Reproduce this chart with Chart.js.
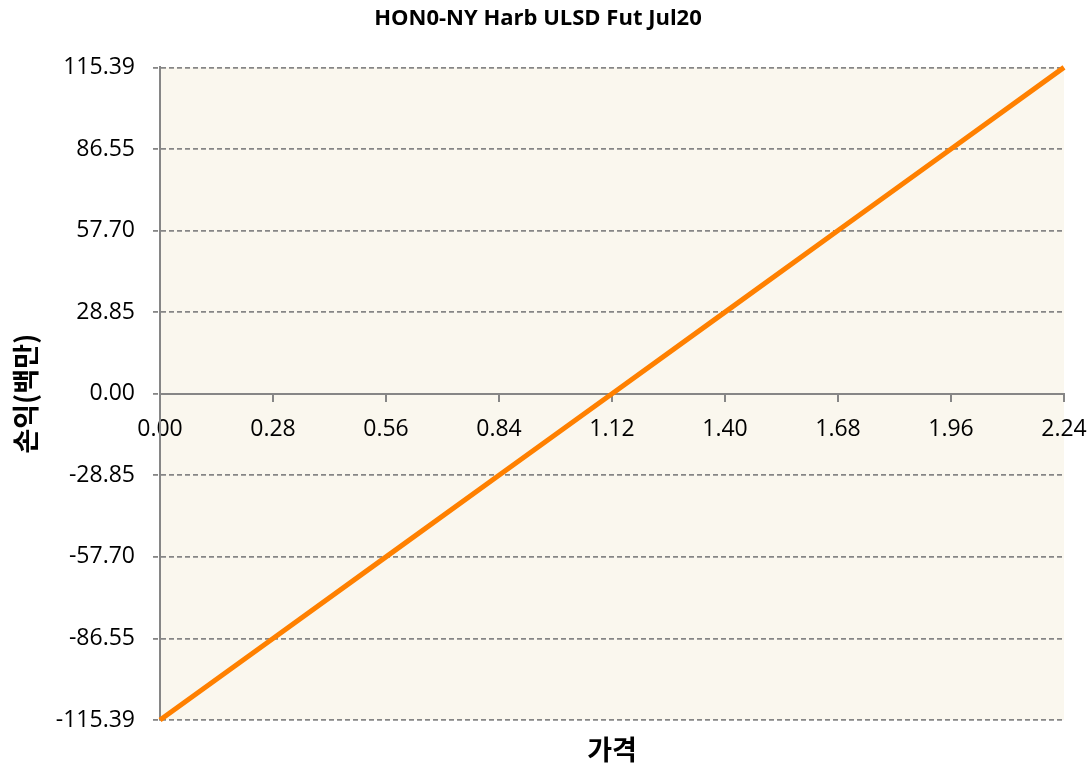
<!DOCTYPE html>
<html>
<head>
<meta charset="utf-8">
<script src="https://cdn.jsdelivr.net/npm/chart.js@4/dist/chart.umd.min.js"></script>
<style>
  html, body { margin: 0; padding: 0; background: #ffffff; }
  #grafico { display: block; }
</style>
</head>
<body>
<canvas id="grafico" width="1092" height="772"></canvas>
<script>
// precio del contrato y resultado (en millones)
var precios = [0.00, 0.28, 0.56, 0.84, 1.12, 1.40, 1.68, 1.96, 2.24];
var resultado = [-115.39, -86.55, -57.70, -28.85, 0.00, 28.85, 57.70, 86.55, 115.39];
var ticksX = [0.00, 0.28, 0.56, 0.84, 1.12, 1.40, 1.68, 1.96, 2.24];
var ticksY = [-115.39, -86.55, -57.70, -28.85, 0.00, 28.85, 57.70, 86.55, 115.39];
var titulo = "HON0-NY Harb ULSD Fut Jul20";
var tituloX = "가격";
var tituloY = "손익(백만)";

var gris = '#868686';
var fuenteKr = "'Noto Sans CJK KR', 'Open Sans', sans-serif";

Chart.defaults.font.family = "'Open Sans', sans-serif";
Chart.defaults.color = '#000000';

var fondoArea = { // pinta el fondo crema del area del grafico
    id: 'fondoArea',
    beforeDraw: function (chart) {
        var a = chart.chartArea;
        var ctx = chart.ctx;
        ctx.save();
        ctx.fillStyle = '#FAF7EE';
        ctx.fillRect(a.left, a.top, a.right - a.left, a.bottom - a.top);
        ctx.restore();
    }
};

var puntos = precios.map(function (p, i) {
    return { x: p, y: resultado[i] };
});

var lineChart = new Chart(document.getElementById("grafico"), {
    type: 'line',
    data: {
        datasets: [{
            label: titulo,
            data: puntos,
            borderColor: '#FF8000',
            borderWidth: 5,
            pointRadius: 0,
            tension: 0,
            clip: false
        }]
    },
    options: {
        responsive: false,
        animation: false,
        layout: {
            padding: { left: 12, right: 28, top: 0, bottom: 0 }
        },
        plugins: {
            legend: { display: false },
            tooltip: { enabled: false },
            title: {
                display: true,
                text: titulo,
                color: '#000000',
                font: { size: 22, weight: 'bold' },
                padding: { top: 6, bottom: 35 }
            }
        },
        scales: {
            x: {
                type: 'linear',
                position: { y: 0 },
                min: 0,
                max: 2.24,
                afterBuildTicks: function (s) {
                    s.ticks = ticksX.map(function (v) { return { value: v }; });
                },
                afterFit: function (s) { // las etiquetas de los extremos no encogen el area
                    s.paddingLeft = 0;
                    s.paddingRight = 0;
                },
                grid: {
                    drawOnChartArea: false,
                    drawTicks: true,
                    tickLength: 7,
                    color: gris,
                    lineWidth: 2
                },
                border: { display: true, color: gris, width: 2 },
                ticks: {
                    autoSkip: false,
                    maxRotation: 0,
                    padding: 15,
                    font: { size: 23 },
                    callback: function (v) { return Number(v).toFixed(2); }
                }
            },
            x2: {
                type: 'linear',
                position: 'bottom',
                min: 0,
                max: 2.24,
                grid: { display: false },
                border: { display: false },
                ticks: { display: false },
                afterFit: function (s) { s.height = 52; },
                title: {
                    display: true,
                    text: tituloX,
                    color: '#000000',
                    font: { family: fuenteKr, size: 27, weight: 'bold' },
                    padding: { top: 0, bottom: 6 }
                }
            },
            y: {
                type: 'linear',
                min: -115.39,
                max: 115.39,
                afterBuildTicks: function (s) {
                    s.ticks = ticksY.map(function (v) { return { value: v }; });
                },
                afterFit: function (s) { s.width = 148; },
                grid: {
                    color: gris,
                    lineWidth: 1.8,
                    drawTicks: true,
                    tickLength: 7,
                    tickBorderDash: [5, 3]
                },
                border: { display: true, color: gris, width: 2, dash: [5, 3] },
                ticks: {
                    padding: 18,
                    font: { size: 23 },
                    callback: function (v) { return Number(v).toFixed(2); }
                },
                title: {
                    display: true,
                    text: tituloY,
                    color: '#000000',
                    font: { family: fuenteKr, size: 27, weight: 'bold', lineHeight: 1 },
                    padding: { top: 0, bottom: 0 }
                }
            }
        }
    },
    plugins: [fondoArea]
});
</script>
</body>
</html>
